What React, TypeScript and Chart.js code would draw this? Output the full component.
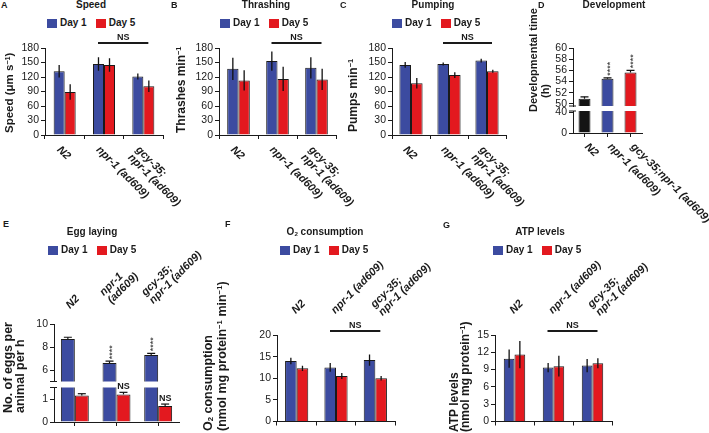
import React, { useEffect, useRef } from 'react';
import { Chart, registerables } from 'chart.js';

Chart.register(...registerables);

const FONT = '"Liberation Sans", Arial, Helvetica, sans-serif';
const BLUE = '#3c4ba0';
const RED = '#e3191f';
const BLACK = '#141414';
const INK = '#1a1a1a';

// ---------- categories ----------
const strainsABC: any[] = ['N2', 'npr-1 (ad609)', ['gcy-35;', 'npr-1 (ad609)']];
const strainsD: any[] = ['N2', 'npr-1 (ad609)', 'gcy-35;npr-1 (ad609)'];
const strainsE: any[] = ['N2', ['npr-1', '(ad609)'], ['gcy-35;', 'npr-1 (ad609)']];
const strainsFG: any[] = ['N2', 'npr-1 (ad609)', ['gcy-35;', 'npr-1 (ad609)']];
const seriesNames = ['Day 1', 'Day 5'];

// ---------- A: speed ----------
const speedDay1 = [132, 147, 121];
const speedDay1Err = [13, 14, 6];
const speedDay5 = [89, 145, 101];
const speedDay5Err = [16, 14, 12];
const speedTicks = [0, 30, 60, 90, 120, 150, 180];

// ---------- B: thrashing ----------
const thrashDay1 = [137, 153, 139];
const thrashDay1Err = [23, 20, 22];
const thrashDay5 = [113, 116, 115];
const thrashDay5Err = [21, 25, 22];
const thrashTicks = [0, 30, 60, 90, 120, 150, 180];

// ---------- C: pumping ----------
const pumpDay1 = [145, 147, 154];
const pumpDay1Err = [6, 3, 4];
const pumpDay5 = [107, 124, 132];
const pumpDay5Err = [11, 6, 3];
const pumpTicks = [0, 30, 60, 90, 120, 150, 180];

// ---------- D: development ----------
const devTime = [50.9, 54.5, 55.6];
const devTimeErr = [0.35, 0.15, 0.4];
const devSig = ['', '****', '****'];
const devTicksUpper = [50, 52, 54, 56, 58, 60];
const devTicksLower = [0, 40];

// ---------- E: egg laying ----------
const eggDay1 = [8.7, 6.6, 7.3];
const eggDay1Err = [0.15, 0.17, 0.15];
const eggDay5 = [1.15, 1.2, 0.7];
const eggDay5Err = [0.08, 0.09, 0.08];
const eggDay1Sig = ['', '****', '****'];
const eggDay5Sig = ['', 'NS', 'NS'];
const eggTicksUpper = [6, 8, 10];
const eggTicksLower = [0, 1];

// ---------- F: O2 consumption ----------
const o2Day1 = [14.0, 12.5, 14.2];
const o2Day1Err = [0.75, 1.0, 1.3];
const o2Day5 = [12.3, 10.5, 10.0];
const o2Day5Err = [0.6, 0.7, 0.5];
const o2Ticks = [0, 5, 10, 15, 20];

// ---------- G: ATP ----------
const atpDay1 = [10.9, 9.35, 9.7];
const atpDay1Err = [1.6, 0.8, 1.15];
const atpDay5 = [11.6, 9.6, 10.1];
const atpDay5Err = [2.35, 1.8, 0.85];
const atpTicks = [0, 3, 6, 9, 12, 15];

// ---------- plugins ----------
const errorBarPlugin: any = {
  id: 'errorBars',
  afterDatasetsDraw(chart: any, _a: any, o: any) {
    if (!o || !o.mode) return;
    const { ctx, chartArea: ca } = chart;
    const ys = chart.scales.y;
    ctx.save();
    ctx.beginPath();
    ctx.rect(ca.left, ca.top - 0.5, ca.right - ca.left, ca.bottom - ca.top + 0.5);
    ctx.clip();
    ctx.strokeStyle = '#111';
    ctx.lineWidth = o.width || 1.2;
    chart.data.datasets.forEach((ds: any, di: number) => {
      if (!ds.errors) return;
      const meta = chart.getDatasetMeta(di);
      meta.data.forEach((el: any, i: number) => {
        const v = ds.data[i];
        const e = ds.errors[i];
        const x = el.x;
        const yTop = ys.getPixelForValue(v + e);
        const yBot = ys.getPixelForValue(o.mode === 'up' ? v : v - e);
        ctx.beginPath();
        ctx.moveTo(x, yBot);
        ctx.lineTo(x, yTop);
        ctx.stroke();
        if (o.cap) {
          ctx.beginPath();
          ctx.moveTo(x - o.cap / 2, yTop);
          ctx.lineTo(x + o.cap / 2, yTop);
          ctx.stroke();
        }
      });
    });
    ctx.restore();
  },
};

const catLabelPlugin: any = {
  id: 'catLabels',
  afterDraw(chart: any, _a: any, o: any) {
    if (!o || !o.mode) return;
    const { ctx, chartArea: ca } = chart;
    const xs = chart.scales.x;
    ctx.save();
    ctx.font = o.font;
    ctx.fillStyle = INK;
    ctx.textAlign = 'left';
    ctx.textBaseline = 'middle';
    chart.data.labels.forEach((lab: any, i: number) => {
      const lines: string[] = Array.isArray(lab) ? lab : [lab];
      const n = lines.length;
      const cx = xs.getPixelForValue(i);
      if (o.mode === 'below') {
        const ax = cx + o.dx;
        const ay = ca.bottom + o.dy;
        lines.forEach((ln, j) => {
          ctx.save();
          ctx.translate(ax, ay);
          ctx.rotate(Math.PI / 4);
          ctx.fillText(ln, 0, j * o.lh);
          ctx.restore();
        });
      } else {
        const ax = cx + o.dx + (n - 1) * o.mdx;
        const ay = ca.top + o.dy + (n - 1) * o.mdy;
        lines.forEach((ln, j) => {
          ctx.save();
          ctx.translate(ax, ay);
          ctx.rotate(-Math.PI / 4);
          ctx.fillText(ln, 0, -(n - 1 - j) * o.lh);
          ctx.restore();
        });
      }
    });
    ctx.restore();
  },
};

const marksPlugin: any = {
  id: 'marks',
  afterDatasetsDraw(chart: any, _a: any, o: any) {
    if (!o) return;
    const { ctx, chartArea: ca } = chart;
    const xs = chart.scales.x;
    const ys = chart.scales.y;
    ctx.save();
    ctx.fillStyle = INK;
    ctx.strokeStyle = INK;
    if (o.bracket) {
      const b = o.bracket;
      const x1 = xs.getPixelForValue(b.from) - 6;
      const x2 = xs.getPixelForValue(b.to) + 5;
      const y = ca.top + b.dy;
      ctx.lineWidth = 2;
      ctx.beginPath();
      ctx.moveTo(x1, y);
      ctx.lineTo(x2, y);
      ctx.stroke();
      ctx.font = `bold 9px ${FONT}`;
      ctx.textAlign = 'center';
      ctx.textBaseline = 'alphabetic';
      ctx.fillText(b.text, (x1 + x2) / 2, y - 3);
    }
    if (o.sig) {
      o.sig.forEach((s: any) => {
        const ds = chart.data.datasets[s.dataset];
        const meta = chart.getDatasetMeta(s.dataset);
        meta.data.forEach((el: any, i: number) => {
          const txt = s.labels[i];
          if (!txt) return;
          const top = ys.getPixelForValue(ds.data[i] + (ds.errors ? ds.errors[i] : 0));
          if (s.vertical) {
            ctx.save();
            ctx.font = `9px ${FONT}`;
            ctx.translate(el.x, top - 2);
            ctx.rotate(-Math.PI / 2);
            ctx.textAlign = 'left';
            ctx.textBaseline = 'alphabetic';
            ctx.fillText(txt, 0, 5);
            ctx.restore();
          } else {
            ctx.font = `bold 9px ${FONT}`;
            ctx.textAlign = 'center';
            ctx.textBaseline = 'alphabetic';
            ctx.fillText(txt, el.x, top - 3);
          }
        });
      });
    }
    if (o.breakMark) {
      const y = o.breakMark === 'bottom' ? ca.bottom : ca.top;
      ctx.lineWidth = 1;
      ctx.beginPath();
      ctx.moveTo(ca.left - 4, y);
      ctx.lineTo(ca.left + 3, y);
      ctx.stroke();
    }
    ctx.restore();
  },
};

// ---------- panel specs ----------
const excelErr = { mode: 'both', cap: 0, width: 1.3 };
const prismErr = { mode: 'up', cap: 8, width: 1.2 };
const labFont = `italic bold 11px ${FONT}`;
const belowABC = { mode: 'below', dx: -6, dy: 13, lh: 11, font: labFont };
const belowD = { mode: 'below', dx: 2, dy: 12, lh: 11, font: labFont };
const aboveE = { mode: 'above', dx: -7, dy: -17, mdx: 0, mdy: -5, lh: 11, font: labFont };
const aboveFG = { mode: 'above', dx: -3, dy: -23, mdx: 8, mdy: 2, lh: 11, font: labFont };

const pair = (d1: number[], e1: number[], d5: number[], e5: number[]) => [
  { label: seriesNames[0], data: d1, errors: e1, backgroundColor: BLUE, borderColor: INK, borderWidth: 1 },
  { label: seriesNames[1], data: d5, errors: e5, backgroundColor: RED, borderColor: INK, borderWidth: 1 },
];

const SPECS: any[] = [
  {
    key: 'A', box: { x: 0, y: 30, w: 230, h: 185 }, plot: { l: 45, t: 48, r: 163, b: 135 }, xAxis: true,
    labels: strainsABC, datasets: pair(speedDay1, speedDay1Err, speedDay5, speedDay5Err),
    yMin: 0, yMax: 180, yTicks: speedTicks, catPct: 0.56, gridOffset: true, err: excelErr,
    catLabels: belowABC, marks: { bracket: { from: 1, to: 2, dy: -5, text: 'NS' } },
  },
  {
    key: 'B', box: { x: 170, y: 30, w: 230, h: 185 }, plot: { l: 219, t: 48, r: 336, b: 135 }, xAxis: true,
    labels: strainsABC, datasets: pair(thrashDay1, thrashDay1Err, thrashDay5, thrashDay5Err),
    yMin: 0, yMax: 180, yTicks: thrashTicks, catPct: 0.58, gridOffset: true, err: excelErr,
    catLabels: belowABC, marks: { bracket: { from: 1, to: 2, dy: -5, text: 'NS' } },
  },
  {
    key: 'C', box: { x: 340, y: 30, w: 230, h: 185 }, plot: { l: 392, t: 48, r: 506, b: 135 }, xAxis: true,
    labels: strainsABC, datasets: pair(pumpDay1, pumpDay1Err, pumpDay5, pumpDay5Err),
    yMin: 0, yMax: 180, yTicks: pumpTicks, catPct: 0.61, gridOffset: true, err: excelErr,
    catLabels: belowABC, marks: { bracket: { from: 1, to: 2, dy: -5, text: 'NS' } },
  },
  {
    key: 'Dtop', box: { x: 540, y: 30, w: 169, h: 90 }, plot: { l: 573, t: 48, r: 642, b: 106 }, xAxis: false,
    labels: strainsD,
    datasets: [{ label: 'Development', data: devTime, errors: devTimeErr, backgroundColor: [BLACK, BLUE, RED], borderColor: INK, borderWidth: 1 }],
    yMin: 49.6, yMax: 60, yTicks: devTicksUpper, catPct: 0.52, gridOffset: false, err: prismErr, clip: true,
    marks: { sig: [{ dataset: 0, labels: devSig, vertical: true }], breakMark: 'bottom' },
  },
  {
    key: 'Dbot', box: { x: 540, y: 100, w: 169, h: 140 }, plot: { l: 573, t: 111, r: 642, b: 133 }, xAxis: true,
    labels: strainsD,
    datasets: [{ label: 'Development', data: devTime, errors: devTimeErr, backgroundColor: [BLACK, BLUE, RED], borderColor: INK, borderWidth: 1 }],
    yMin: 0, yMax: 42, yTicks: devTicksLower, catPct: 0.52, gridOffset: false, err: prismErr, clip: true,
    catLabels: belowD, marks: { breakMark: 'top' },
  },
  {
    key: 'Etop', box: { x: 0, y: 240, w: 240, h: 152 }, plot: { l: 54, t: 324, r: 179, b: 381.5 }, xAxis: false,
    labels: strainsE, datasets: pair(eggDay1, eggDay1Err, eggDay5, eggDay5Err),
    yMin: 5, yMax: 10, yTicks: eggTicksUpper, catPct: 0.67, gridOffset: false, err: prismErr, clip: true,
    catLabels: aboveE, marks: { sig: [{ dataset: 0, labels: eggDay1Sig, vertical: true }], breakMark: 'bottom' },
  },
  {
    key: 'Ebot', box: { x: 0, y: 262, w: 200, h: 171 }, plot: { l: 54, t: 387.5, r: 179, b: 422 }, xAxis: true,
    labels: strainsE, datasets: pair(eggDay1, eggDay1Err, eggDay5, eggDay5Err),
    yMin: 0, yMax: 1.5, yTicks: eggTicksLower, catPct: 0.67, gridOffset: false, err: prismErr, clip: true,
    marks: { sig: [{ dataset: 1, labels: eggDay5Sig, vertical: false }], breakMark: 'top' },
  },
  {
    key: 'F', box: { x: 200, y: 240, w: 270, h: 193 }, plot: { l: 277, t: 335, r: 395, b: 421.5 }, xAxis: true,
    labels: strainsFG, datasets: pair(o2Day1, o2Day1Err, o2Day5, o2Day5Err),
    yMin: 0, yMax: 20, yTicks: o2Ticks, catPct: 0.59, gridOffset: true, err: excelErr,
    catLabels: aboveFG, marks: { bracket: { from: 1, to: 2, dy: -4, text: 'NS' } },
  },
  {
    key: 'G', box: { x: 440, y: 240, w: 269, h: 193 }, plot: { l: 495, t: 335, r: 612, b: 421.5 }, xAxis: true,
    labels: strainsFG, datasets: pair(atpDay1, atpDay1Err, atpDay5, atpDay5Err),
    yMin: 0, yMax: 15, yTicks: atpTicks, catPct: 0.55, gridOffset: true, err: excelErr,
    catLabels: aboveFG, marks: { bracket: { from: 1, to: 2, dy: -4, text: 'NS' } },
  },
];

function buildConfig(s: any): any {
  const xh = s.xAxis ? 5 : 0;
  const padTop = s.plot.t - s.box.y;
  const padRight = s.box.x + s.box.w - s.plot.r;
  const padBottom = s.box.y + s.box.h - s.plot.b - xh;
  const yW = s.plot.l - s.box.x;
  const datasets = s.datasets.map((d: any) => {
    const o: any = { ...d, categoryPercentage: s.catPct, barPercentage: 1 };
    if (s.clip) o.clip = 0;
    return o;
  });
  return {
    type: 'bar',
    data: { labels: s.labels, datasets },
    options: {
      animation: false,
      responsive: false,
      maintainAspectRatio: false,
      devicePixelRatio: 1,
      events: [],
      layout: { autoPadding: false, padding: { top: padTop, right: padRight, bottom: padBottom, left: 0 } },
      plugins: {
        legend: { display: false },
        title: { display: false },
        tooltip: { enabled: false },
        errorBars: s.err,
        catLabels: s.catLabels || {},
        marks: s.marks || {},
      },
      scales: {
        x: {
          display: s.xAxis,
          ticks: { display: false },
          grid: { drawOnChartArea: false, drawTicks: true, tickLength: 4, color: INK, lineWidth: 1, offset: s.gridOffset },
          border: { display: true, color: INK, width: 1 },
          afterFit: (sc: any) => {
            sc.height = xh;
            sc.paddingLeft = 0;
            sc.paddingRight = 0;
          },
        },
        y: {
          min: s.yMin,
          max: s.yMax,
          afterBuildTicks: (sc: any) => {
            sc.ticks = s.yTicks.map((v: number) => ({ value: v }));
          },
          ticks: { font: { size: 10.5, family: FONT }, color: INK, padding: 2, autoSkip: false },
          grid: { drawOnChartArea: false, drawTicks: true, tickLength: 4, color: INK, lineWidth: 1 },
          border: { display: true, color: INK, width: 1 },
          afterFit: (sc: any) => {
            sc.width = yW;
            sc.paddingTop = 0;
            sc.paddingBottom = 0;
          },
        },
      },
    },
    plugins: [errorBarPlugin, catLabelPlugin, marksPlugin],
  };
}

// ---------- text helpers ----------
const baseText: any = { position: 'absolute', whiteSpace: 'nowrap', lineHeight: 1, color: INK, fontFamily: FONT };

const Sup = ({ children }: any) => (
  <span style={{ fontSize: '0.62em', verticalAlign: '0.5em', lineHeight: 0 }}>{children}</span>
);
const Sub = ({ children }: any) => (
  <span style={{ fontSize: '0.62em', verticalAlign: '-0.2em', lineHeight: 0 }}>{children}</span>
);

const Letter = ({ x, y, children }: any) => (
  <div style={{ ...baseText, left: x, top: y, transform: 'translateY(-50%)', fontWeight: 'bold', fontSize: 9 }}>{children}</div>
);
const Title = ({ x, y, children }: any) => (
  <div style={{ ...baseText, left: x, top: y, transform: 'translate(-50%,-50%)', fontWeight: 'bold', fontSize: 10 }}>{children}</div>
);
const VText = ({ x, y, size, center, children }: any) => (
  <div
    style={{
      ...baseText,
      left: x,
      top: y,
      fontWeight: 'bold',
      fontSize: size,
      transformOrigin: '0 0',
      transform: center ? 'rotate(-90deg) translate(-50%,-50%)' : 'rotate(-90deg) translateY(-50%)',
    }}
  >
    {children}
  </div>
);
const Legend = ({ x, y }: any) => (
  <div style={{ ...baseText, left: x, top: y, transform: 'translateY(-50%)', display: 'flex', alignItems: 'center', fontWeight: 'bold', fontSize: 10 }}>
    <span style={{ display: 'inline-block', width: 10, height: 9, background: BLUE, marginRight: 3 }} />
    {seriesNames[0]}
    <span style={{ display: 'inline-block', width: 10, height: 9, background: RED, marginLeft: 9, marginRight: 3 }} />
    {seriesNames[1]}
  </div>
);

export default function App() {
  const refs = useRef<(HTMLCanvasElement | null)[]>([]);
  useEffect(() => {
    Chart.defaults.font.family = FONT;
    const charts = SPECS.map((s, i) => new Chart(refs.current[i] as HTMLCanvasElement, buildConfig(s)));
    return () => {
      charts.forEach((c) => c.destroy());
    };
  }, []);

  return (
    <div style={{ position: 'absolute', left: 0, top: 0, width: 709, height: 433, background: '#fff', overflow: 'hidden' }}>
      {SPECS.map((s, i) => (
        <canvas
          key={s.key}
          ref={(el) => {
            refs.current[i] = el;
          }}
          width={s.box.w}
          height={s.box.h}
          style={{ position: 'absolute', left: s.box.x, top: s.box.y, width: s.box.w, height: s.box.h }}
        />
      ))}

      <Letter x={1} y={4.5}>A</Letter>
      <Letter x={171} y={4.5}>B</Letter>
      <Letter x={340} y={4.5}>C</Letter>
      <Letter x={538} y={4.5}>D</Letter>
      <Letter x={3} y={223.5}>E</Letter>
      <Letter x={225} y={224}>F</Letter>
      <Letter x={443} y={225}>G</Letter>

      <Title x={91} y={5}>Speed</Title>
      <Title x={266} y={5}>Thrashing</Title>
      <Title x={433} y={5}>Pumping</Title>
      <Title x={614} y={5}>Development</Title>
      <Title x={92} y={231.5}>Egg laying</Title>
      <Title x={325} y={231.5}>O<Sub>2</Sub> consumption</Title>
      <Title x={540} y={231.5}>ATP levels</Title>

      <Legend x={47} y={23} />
      <Legend x={220} y={23} />
      <Legend x={392} y={23} />
      <Legend x={48} y={250} />
      <Legend x={280} y={250} />
      <Legend x={493} y={250} />

      <VText x={10} y={133} size={11.5}>Speed (μm s<Sup>−1</Sup>)</VText>
      <VText x={181} y={133} size={12}>Thrashes min<Sup>−1</Sup></VText>
      <VText x={353} y={132} size={12}>Pumps min<Sup>−1</Sup></VText>
      <VText x={533} y={60} size={11} center>Developmental time</VText>
      <VText x={545} y={91} size={11} center>(h)</VText>
      <VText x={7.5} y={413} size={12.5}>No. of eggs per</VText>
      <VText x={20} y={413} size={12.5}>animal per h</VText>
      <VText x={208} y={431} size={12.5}>O<Sub>2</Sub> consumption</VText>
      <VText x={222} y={431} size={12.5}>(nmol mg protein<Sup>−1</Sup> min<Sup>−1</Sup>)</VText>
      <VText x={454} y={432} size={12}>ATP levels</VText>
      <VText x={465} y={432} size={12}>(nmol mg protein<Sup>−1</Sup>)</VText>
    </div>
  );
}
